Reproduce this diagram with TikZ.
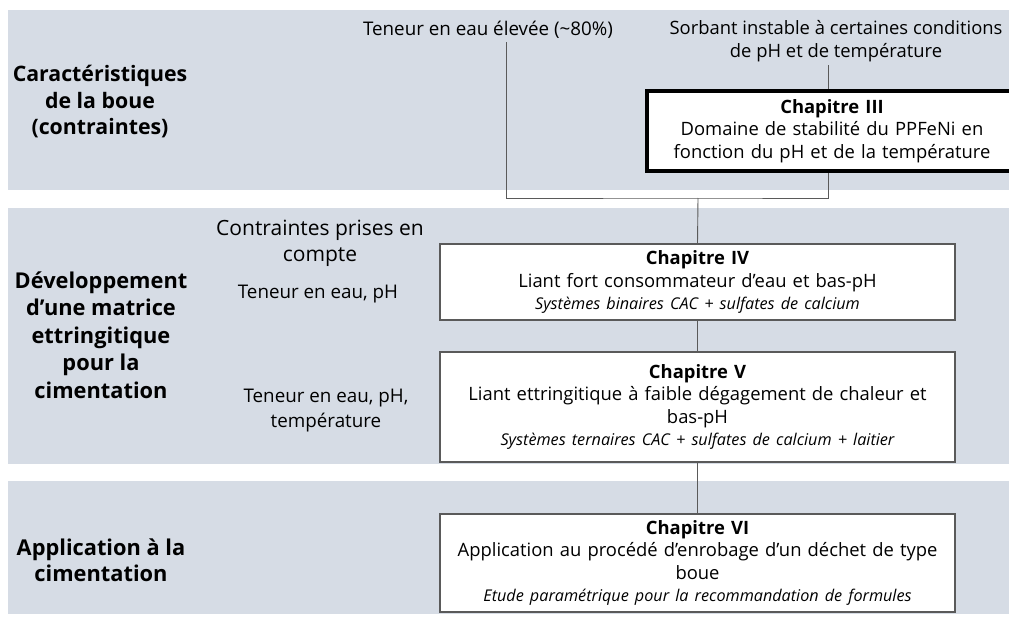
\documentclass[tikz,border=0pt]{standalone}
\usepackage{fontspec}
\setmainfont{Open Sans}
\usepackage{tikz}
\usetikzlibrary{positioning}
\definecolor{bandgrey}{RGB}{214,220,229}
\definecolor{linegrey}{RGB}{90,90,90}
\newcommand{\chapsub}[1]{{\itshape\fontsize{16.2}{19}\selectfont #1}}

\begin{document}
\begin{tikzpicture}[x=1pt,y=-1pt,
  band/.style={fill=bandgrey,draw=none},
  chapbox/.style={draw=linegrey,line width=1.2pt,fill=white,minimum width=515pt,text width=510pt,align=center,inner sep=0pt,font=\fontsize{18.4}{22.5}\selectfont},
  sidetitle/.style={align=center,font=\bfseries\fontsize{21.3}{26.5}\selectfont},
  note/.style={align=center,font=\fontsize{18.8}{23}\selectfont},
  link/.style={draw=linegrey,line width=0.9pt}
]
\clip (0,0) rectangle (1009,618);
\fill[white] (0,0) rectangle (1009,618);
% bands
\fill[band] (8,10) rectangle (1009,190);
\fill[band] (8,208) rectangle (1009,464);
\fill[band] (8,481) rectangle (1009,614);

% left titles
\node[sidetitle] (boue) at (100,102) {Caractéristiques\\de la boue\\(contraintes)};
\node[sidetitle,font=\bfseries\fontsize{21.8}{27.5}\selectfont] (matrice) at (101,335) {Développement\\d’une matrice\\ettringitique\\pour la\\cimentation};
\node[sidetitle,font=\bfseries\fontsize{21.8}{26}\selectfont] (appli) at (101,560) {Application à la\\cimentation};

% constraints
\node[note] (teneur) at (488,30) {Teneur en eau élevée (\textasciitilde80\%)};
\node[note,font=\fontsize{18.4}{22.5}\selectfont] (sorbant) at (836,41) {Sorbant instable à certaines conditions\\de pH et de température};
\node[note,font=\fontsize{21}{26}\selectfont] (prises) at (320,243) {Contraintes prises en\\compte};
\node[note] (cont4) at (318,294) {Teneur en eau, pH};
\node[note,font=\fontsize{18.8}{25}\selectfont] (cont5) at (326,411) {Teneur en eau, pH,\\température};

% chapters
\node[draw=black,line width=4.5pt,fill=white,minimum width=370pt,minimum height=80pt,text width=360pt,align=center,inner sep=0pt,font=\fontsize{18.4}{22.5}\selectfont] (chap3) at (832,131)
  {{\bfseries Chapitre III}\\Domaine de stabilité du PPFeNi en\\fonction du pH et de la température};
\node[chapbox,minimum height=76pt] (chap4) at (697.5,282)
  {{\bfseries Chapitre IV}\\Liant fort consommateur d’eau et bas-pH\\\chapsub{Systèmes binaires CAC + sulfates de calcium}};
\node[chapbox,minimum height=110pt] (chap5) at (697.5,407)
  {{\bfseries Chapitre V}\\Liant ettringitique à faible dégagement de chaleur et\\bas-pH\\\chapsub{Systèmes ternaires CAC + sulfates de calcium + laitier}};
\node[chapbox,minimum height=98pt] (chap6) at (697.5,563)
  {{\bfseries Chapitre VI}\\Application au procédé d’enrobage d’un déchet de type\\boue\\\chapsub{Etude paramétrique pour la recommandation de formules}};

% connectors
\coordinate (junction) at (698,198);
\draw[link] (sorbant.south -| 828,0) -- (chap3.north -| 828,0);
\draw[link] ([xshift=18pt]teneur.south) |- (junction) -| (chap3.south -| 828,0);
\draw[link] (junction) -- (chap4.north);
\draw[link] (chap4) -- (chap5);
\draw[link] (chap5) -- (chap6);
\end{tikzpicture}
\end{document}
